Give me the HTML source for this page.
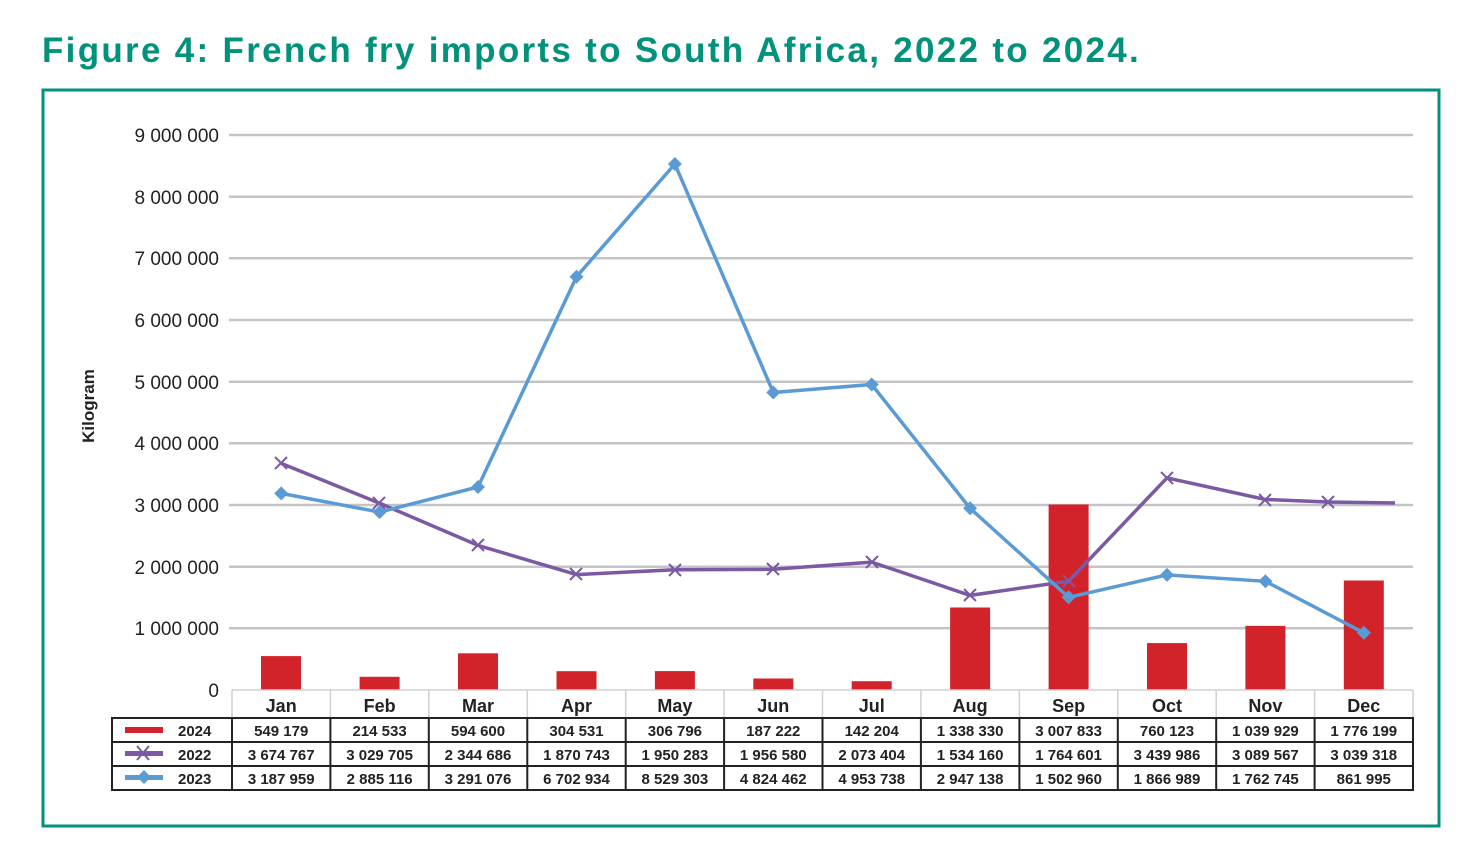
<!DOCTYPE html><html><head><style>body{margin:0;background:#fff}svg{display:block}text{font-family:"Liberation Sans",sans-serif}</style></head><body>
<svg width="1480" height="868" viewBox="0 0 1480 868" xmlns="http://www.w3.org/2000/svg">
<text x="42" y="62" font-size="35" font-weight="bold" fill="#00927a" letter-spacing="2.3">Figure 4: French fry imports to South Africa, 2022 to 2024.</text>
<rect x="43" y="90" width="1396" height="736" fill="none" stroke="#00927a" stroke-width="3"/>
<g stroke="#c4c4c8" stroke-width="2.5">
<line x1="229" x2="1413" y1="135" y2="135"/><line x1="229" x2="1413" y1="196.7" y2="196.7"/><line x1="229" x2="1413" y1="258.3" y2="258.3"/><line x1="229" x2="1413" y1="320" y2="320"/><line x1="229" x2="1413" y1="381.7" y2="381.7"/><line x1="229" x2="1413" y1="443.3" y2="443.3"/><line x1="229" x2="1413" y1="505" y2="505"/><line x1="229" x2="1413" y1="566.7" y2="566.7"/><line x1="229" x2="1413" y1="628.3" y2="628.3"/>
</g>
<g font-size="19" fill="#222" text-anchor="end">
<text x="219" y="142">9 000 000</text><text x="219" y="204">8 000 000</text><text x="219" y="265">7 000 000</text><text x="219" y="327">6 000 000</text><text x="219" y="389">5 000 000</text><text x="219" y="450">4 000 000</text><text x="219" y="512">3 000 000</text><text x="219" y="574">2 000 000</text><text x="219" y="635">1 000 000</text><text x="219" y="697">0</text>
</g>
<text transform="translate(94,406) rotate(-90)" font-size="17" font-weight="bold" text-anchor="middle" fill="#222">Kilogram</text>
<g fill="#d2232a">
<rect x="261" y="656.1" width="40" height="33.9"/><rect x="359.6" y="676.8" width="40" height="13.2"/><rect x="458" y="653.3" width="40" height="36.7"/><rect x="556.5" y="671.2" width="40" height="18.8"/><rect x="654.9" y="671.1" width="40" height="18.9"/><rect x="753.3" y="678.5" width="40" height="11.5"/><rect x="851.7" y="681.2" width="40" height="8.8"/><rect x="950.1" y="607.5" width="40" height="82.5"/><rect x="1048.6" y="504.5" width="40" height="185.5"/><rect x="1147" y="643.1" width="40" height="46.9"/><rect x="1245.4" y="625.9" width="40" height="64.1"/><rect x="1343.8" y="580.5" width="40" height="109.5"/>
</g>
<polyline fill="none" stroke="#7b59a3" stroke-width="3.5" points="281.2,463.4 379.6,503.2 478,545.4 576.5,574.6 674.9,569.7 773.3,569.3 871.7,562.1 970.1,595.4 1068.6,581.2 1167,477.9 1265.4,499.5 1328,502 1395,503"/>
<g stroke="#7b59a3" stroke-width="2">
<path d="M275,457l12,12M287,457l-12,12M373,497l12,12M385,497l-12,12M472,539l12,12M484,539l-12,12M570,568l12,12M582,568l-12,12M669,564l12,12M681,564l-12,12M767,563l12,12M779,563l-12,12M866,556l12,12M878,556l-12,12M964,589l12,12M976,589l-12,12M1063,575l12,12M1075,575l-12,12M1161,472l12,12M1173,472l-12,12M1259,494l12,12M1271,494l-12,12M1322,496l12,12M1334,496l-12,12"/>
</g>
<polyline fill="none" stroke="#5b9bd5" stroke-width="3.5" points="281.2,493.4 379.6,512.1 478,487 576.5,276.7 674.9,164 773.3,392.5 871.7,384.5 970.1,508.3 1068.6,597.3 1167,574.9 1265.4,581.3 1363.8,632.8"/>
<g fill="#5b9bd5">
<path d="M281.2,486.4l7,7-7,7-7-7zM379.6,505.1l7,7-7,7-7-7zM478,480l7,7-7,7-7-7zM576.5,269.7l7,7-7,7-7-7zM674.9,157l7,7-7,7-7-7zM773.3,385.5l7,7-7,7-7-7zM871.7,377.5l7,7-7,7-7-7zM970.1,501.3l7,7-7,7-7-7zM1068.6,590.3l7,7-7,7-7-7zM1167,567.9l7,7-7,7-7-7zM1265.4,574.3l7,7-7,7-7-7zM1363.8,625.8l7,7-7,7-7-7z"/>
</g>
<g stroke="#d0d0d0" stroke-width="1.5">
<line x1="232" x2="1413" y1="690" y2="690"/>
<line x1="232" x2="232" y1="690" y2="718"/><line x1="330.4" x2="330.4" y1="690" y2="718"/><line x1="428.8" x2="428.8" y1="690" y2="718"/><line x1="527.3" x2="527.3" y1="690" y2="718"/><line x1="625.7" x2="625.7" y1="690" y2="718"/><line x1="724.1" x2="724.1" y1="690" y2="718"/><line x1="822.5" x2="822.5" y1="690" y2="718"/><line x1="920.9" x2="920.9" y1="690" y2="718"/><line x1="1019.4" x2="1019.4" y1="690" y2="718"/><line x1="1117.8" x2="1117.8" y1="690" y2="718"/><line x1="1216.2" x2="1216.2" y1="690" y2="718"/><line x1="1314.6" x2="1314.6" y1="690" y2="718"/><line x1="1413" x2="1413" y1="690" y2="718"/>
</g>
<g stroke="#222" stroke-width="2" fill="none">
<rect x="112" y="718" width="1301" height="72"/>
<line x1="112" x2="1413" y1="742" y2="742"/><line x1="112" x2="1413" y1="766" y2="766"/>
<line x1="232" x2="232" y1="718" y2="790"/><line x1="330.4" x2="330.4" y1="718" y2="790"/><line x1="428.8" x2="428.8" y1="718" y2="790"/><line x1="527.3" x2="527.3" y1="718" y2="790"/><line x1="625.7" x2="625.7" y1="718" y2="790"/><line x1="724.1" x2="724.1" y1="718" y2="790"/><line x1="822.5" x2="822.5" y1="718" y2="790"/><line x1="920.9" x2="920.9" y1="718" y2="790"/><line x1="1019.4" x2="1019.4" y1="718" y2="790"/><line x1="1117.8" x2="1117.8" y1="718" y2="790"/><line x1="1216.2" x2="1216.2" y1="718" y2="790"/><line x1="1314.6" x2="1314.6" y1="718" y2="790"/>
</g>
<rect x="125" y="727" width="38" height="6" fill="#d2232a"/>
<rect x="125" y="751" width="38" height="5" fill="#7b59a3"/><path d="M137,746l12,14M149,746l-12,14" stroke="#7b59a3" stroke-width="2"/>
<rect x="125" y="775" width="38" height="5" fill="#5b9bd5"/><path d="M144,770l7,7-7,7-7-7z" fill="#5b9bd5"/>
<g font-size="15" font-weight="bold" fill="#222">
<text x="178" y="736">2024</text><text x="178" y="760">2022</text><text x="178" y="784">2023</text>
</g>
<g font-size="18" font-weight="bold" fill="#222" text-anchor="middle">
<text x="281.2" y="712">Jan</text><text x="379.6" y="712">Feb</text><text x="478" y="712">Mar</text><text x="576.5" y="712">Apr</text><text x="674.9" y="712">May</text><text x="773.3" y="712">Jun</text><text x="871.7" y="712">Jul</text><text x="970.1" y="712">Aug</text><text x="1068.6" y="712">Sep</text><text x="1167" y="712">Oct</text><text x="1265.4" y="712">Nov</text><text x="1363.8" y="712">Dec</text>
</g>
<g font-size="15" font-weight="bold" fill="#222" text-anchor="middle">
<text x="281.2" y="736">549 179</text><text x="379.6" y="736">214 533</text><text x="478" y="736">594 600</text><text x="576.5" y="736">304 531</text><text x="674.9" y="736">306 796</text><text x="773.3" y="736">187 222</text><text x="871.7" y="736">142 204</text><text x="970.1" y="736">1 338 330</text><text x="1068.6" y="736">3 007 833</text><text x="1167" y="736">760 123</text><text x="1265.4" y="736">1 039 929</text><text x="1363.8" y="736">1 776 199</text>
<text x="281.2" y="760">3 674 767</text><text x="379.6" y="760">3 029 705</text><text x="478" y="760">2 344 686</text><text x="576.5" y="760">1 870 743</text><text x="674.9" y="760">1 950 283</text><text x="773.3" y="760">1 956 580</text><text x="871.7" y="760">2 073 404</text><text x="970.1" y="760">1 534 160</text><text x="1068.6" y="760">1 764 601</text><text x="1167" y="760">3 439 986</text><text x="1265.4" y="760">3 089 567</text><text x="1363.8" y="760">3 039 318</text>
<text x="281.2" y="784">3 187 959</text><text x="379.6" y="784">2 885 116</text><text x="478" y="784">3 291 076</text><text x="576.5" y="784">6 702 934</text><text x="674.9" y="784">8 529 303</text><text x="773.3" y="784">4 824 462</text><text x="871.7" y="784">4 953 738</text><text x="970.1" y="784">2 947 138</text><text x="1068.6" y="784">1 502 960</text><text x="1167" y="784">1 866 989</text><text x="1265.4" y="784">1 762 745</text><text x="1363.8" y="784">861 995</text>
</g>
</svg>
</body></html>
